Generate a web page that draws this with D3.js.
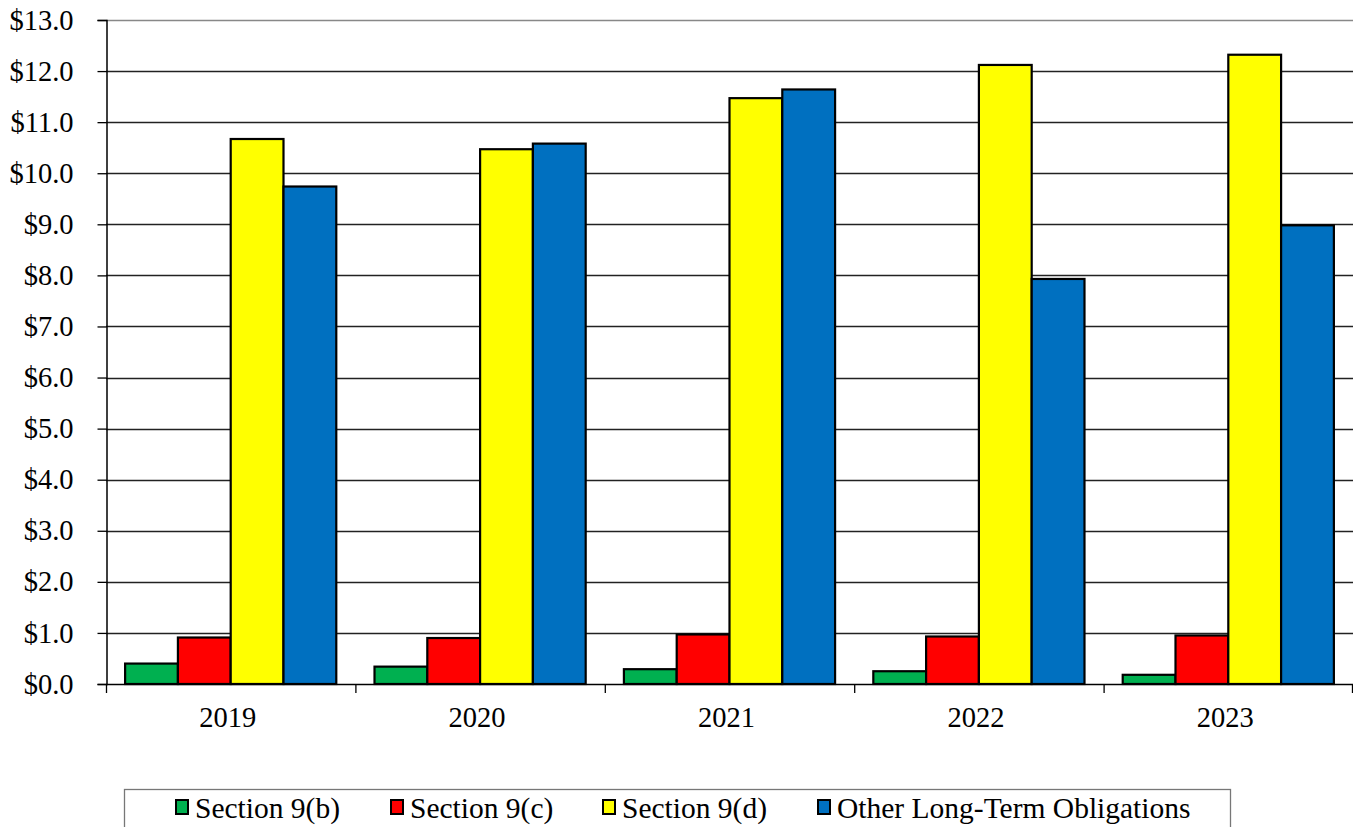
<!DOCTYPE html>
<html><head><meta charset="utf-8">
<script src="https://cdn.jsdelivr.net/npm/d3@7"></script>
<style>body{margin:0;background:#fff}svg{display:block}svg text{font-family:'Liberation Serif','Times New Roman',Times,'DejaVu Serif',serif !important;fill:#000}</style>
</head><body><svg id="c" width="1353" height="827"></svg>
<script>
const years = ["2019","2020","2021","2022","2023"];
const seriesNames = ["Section 9(b)","Section 9(c)","Section 9(d)","Other Long-Term Obligations"];
const seriesColors = ["#00b050","#ff0000","#ffff00","#0070c0"];
const sec9b = [0.40,0.34,0.29,0.25,0.18];
const sec9c = [0.91,0.90,0.97,0.93,0.95];
const sec9d = [10.67,10.47,11.47,12.12,12.32];
const otherLT = [9.74,10.58,11.64,7.93,8.98];
const yTicks = [0,1,2,3,4,5,6,7,8,9,10,11,12,13];
const seriesVals = [sec9b,sec9c,sec9d,otherLT];

const FONT = "'Liberation Serif','Times New Roman',Times,'DejaVu Serif',serif";
const svg = d3.select("#c");
const L=106, R=1353, T=20, B=684;
const x0 = d3.scaleBand().domain(years).range([L,R]).paddingInner(0).paddingOuter(0);
const x1 = d3.scaleBand().domain(seriesNames).range([0,x0.bandwidth()]).paddingInner(0).paddingOuter(0.362);
const y = d3.scaleLinear().domain([0,13]).range([B,T]);

// gridlines
svg.append("g").selectAll("line").data(yTicks.filter(d=>d>0)).join("line")
  .attr("x1",L).attr("x2",R).attr("y1",d=>Math.round(y(d))+0.5).attr("y2",d=>Math.round(y(d))+0.5)
  .attr("stroke",d=>d===13?"#888":"#222").attr("stroke-width",1.3);

// y axis
const yAxis = d3.axisLeft(y).tickValues(yTicks).tickFormat(d=>"$"+d.toFixed(1)).tickSize(9).tickPadding(24);
const ya = svg.append("g").attr("transform",`translate(${L+0.5},0)`).call(yAxis)
  .attr("font-family",FONT).attr("font-size",28.5);
ya.select(".domain").attr("stroke","#000").attr("stroke-width",1.5);
ya.selectAll(".tick line").attr("stroke","#000").attr("stroke-width",1.3);
ya.selectAll("text").attr("font-family",FONT).attr("font-size",28.5).attr("fill","#000");

// bars
const g = svg.append("g");
seriesNames.forEach((s,si)=>{
  g.append("g").selectAll("rect").data(years).join("rect")
   .attr("x",(d)=>x0(d)+x1(s))
   .attr("width",x1.bandwidth())
   .attr("y",(d,i)=>y(seriesVals[si][i]))
   .attr("height",(d,i)=>B-y(seriesVals[si][i]))
   .attr("fill",seriesColors[si]).attr("stroke","#000").attr("stroke-width",2.2);
});

// x axis
const xAxisScale = d3.scaleLinear().domain([0,years.length]).range([L,R]);
svg.append("line").attr("x1",L).attr("x2",R).attr("y1",B+0.5).attr("y2",B+0.5).attr("stroke","#000").attr("stroke-width",1.5);
svg.append("g").selectAll("line").data(d3.range(years.length+1)).join("line")
  .attr("x1",d=>Math.min(xAxisScale(d),R-1)+0.5).attr("x2",d=>Math.min(xAxisScale(d),R-1)+0.5)
  .attr("y1",B).attr("y2",B+9).attr("stroke","#000").attr("stroke-width",1.3);
svg.append("g").selectAll("text").data(years).join("text")
  .attr("x",d=>x0(d)+x0.bandwidth()/2-3).attr("y",727)
  .attr("text-anchor","middle").attr("font-family",FONT).attr("font-size",28.5).text(d=>d);

// legend
svg.append("rect").attr("x",124.5).attr("y",789.5).attr("width",1106).attr("height",60)
  .attr("fill","#fff").attr("stroke","#777").attr("stroke-width",1.3);
const legX = [176,391,603,818];
const lg = svg.append("g").selectAll("g").data(seriesNames).join("g")
  .attr("transform",(d,i)=>`translate(${legX[i]},0)`);
lg.append("rect").attr("x",0).attr("y",800).attr("width",12).attr("height",14)
  .attr("fill",(d,i)=>seriesColors[i]).attr("stroke","#000").attr("stroke-width",2);
lg.append("text").attr("x",19).attr("y",818).attr("font-family",FONT).attr("font-size",29.5).text(d=>d);
</script></body></html>
